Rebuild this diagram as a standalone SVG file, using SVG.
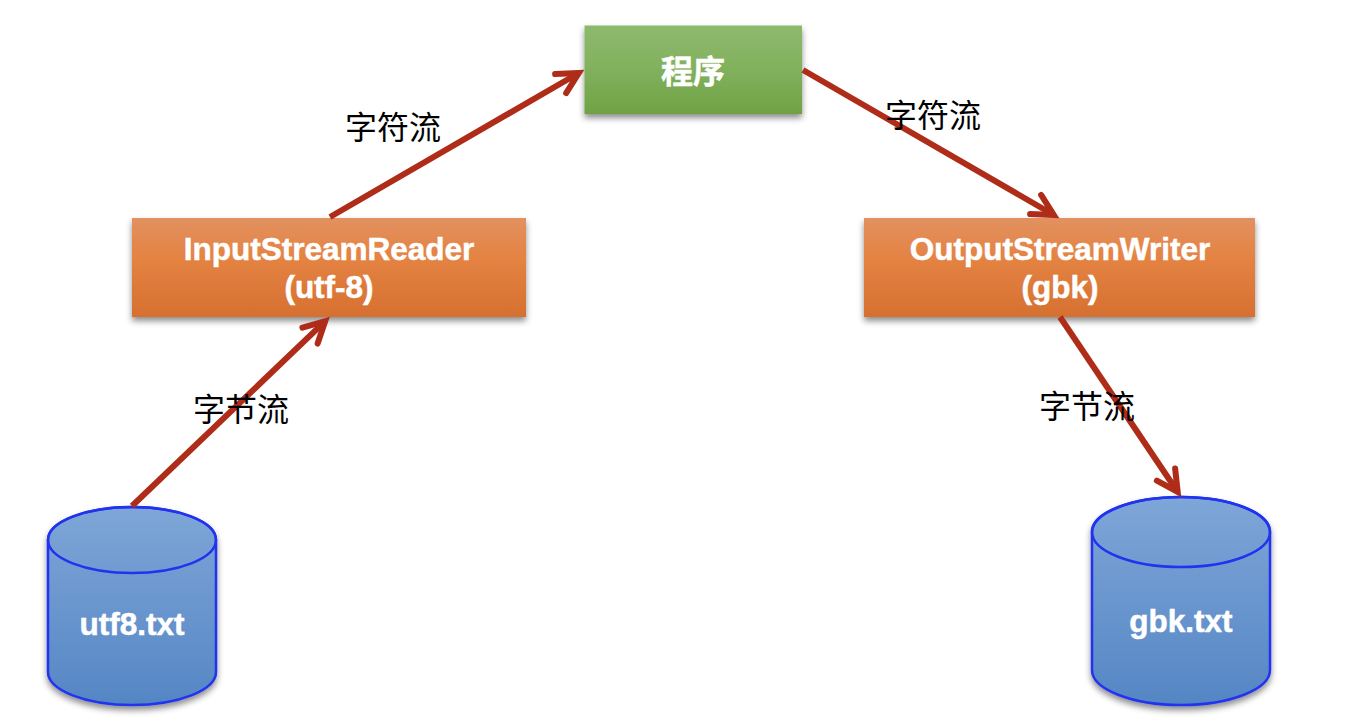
<svg xmlns="http://www.w3.org/2000/svg" width="1352" height="728" viewBox="0 0 1352 728">
<style>
.t{font-family:"Liberation Sans","Noto Sans CJK SC",sans-serif;font-weight:bold;fill:#fff;stroke:#fff;stroke-width:0.5;text-anchor:middle}
.l{font-family:"Noto Sans CJK SC","Liberation Sans",sans-serif;font-size:32px;fill:#000;text-anchor:middle}
.c{fill:none;stroke:#ae2c18;stroke-width:6;marker-end:url(#a)}
.d{stroke:#2233ee;stroke-width:2.5}
</style>
<defs>
<linearGradient id="g" x1="0" y1="0" x2="0" y2="1"><stop offset="0" stop-color="#8db96d"/><stop offset="0.45" stop-color="#83b25f"/><stop offset="1" stop-color="#6fa244"/></linearGradient>
<linearGradient id="o" x1="0" y1="0" x2="0" y2="1"><stop offset="0" stop-color="#e29160"/><stop offset="0.4" stop-color="#e48343"/><stop offset="1" stop-color="#d67030"/></linearGradient>
<linearGradient id="b" x1="0" y1="0" x2="0" y2="1"><stop offset="0" stop-color="#7ea6d8"/><stop offset="1" stop-color="#5586c4"/></linearGradient>
<filter id="s" x="-10%" y="-15%" width="120%" height="130%"><feDropShadow dx="0" dy="4" stdDeviation="3" flood-color="#000" flood-opacity="0.45"/></filter>
<marker id="a" markerUnits="userSpaceOnUse" markerWidth="36" markerHeight="36" refX="24" refY="17" orient="auto" overflow="visible"><path d="M3 6 L24 17 L3 28" fill="none" stroke="#ae2c18" stroke-width="6" stroke-linecap="round" stroke-linejoin="miter" stroke-miterlimit="10"/></marker>
</defs>
<g id="node-program"><rect x="584.500" y="25.500" width="217.500" height="88.500" fill="url(#g)" filter="url(#s)"/><text class="t" x="693" y="83" font-size="32">程序</text></g>
<g id="node-reader"><rect x="132" y="218" width="394" height="99" fill="url(#o)" filter="url(#s)"/><text class="t" x="329" y="260" font-size="31.500">InputStreamReader</text><text class="t" x="329" y="298" font-size="31.500">(utf-8)</text></g>
<g id="node-writer"><rect x="864" y="218" width="391" height="99" fill="url(#o)" filter="url(#s)"/><text class="t" x="1060" y="260" font-size="31.500">OutputStreamWriter</text><text class="t" x="1060" y="298" font-size="31.500">(gbk)</text></g>
<g id="node-utf8"><path class="d" d="M48 540 V672 A84 33 0 0 0 216 672 V540 A84 33 0 0 0 48 540Z" fill="url(#b)" filter="url(#s)"/><ellipse class="d" cx="132" cy="540" rx="84" ry="33" fill="none"/><text class="t" x="132" y="635" font-size="31.500">utf8.txt</text></g>
<g id="node-gbk"><path class="d" d="M1092 532 V670 A89 35 0 0 0 1270 670 V532 A89 35 0 0 0 1092 532Z" fill="url(#b)" filter="url(#s)"/><ellipse class="d" cx="1181" cy="532" rx="89" ry="35" fill="none"/><text class="t" x="1181" y="632" font-size="31.500">gbk.txt</text></g>
<g id="connectors">
<path class="c" d="M132 506 L325.200 321.100"/>
<path class="c" d="M330 217 L578.800 73"/>
<path class="c" d="M803 70 L1053.800 215"/>
<path class="c" d="M1060 317 L1177.700 492"/>
</g>
<g id="labels">
<text class="l" x="393" y="139">字符流</text>
<text class="l" x="933" y="127">字符流</text>
<text class="l" x="241" y="421">字节流</text>
<text class="l" x="1087" y="418">字节流</text>
</g>
</svg>
